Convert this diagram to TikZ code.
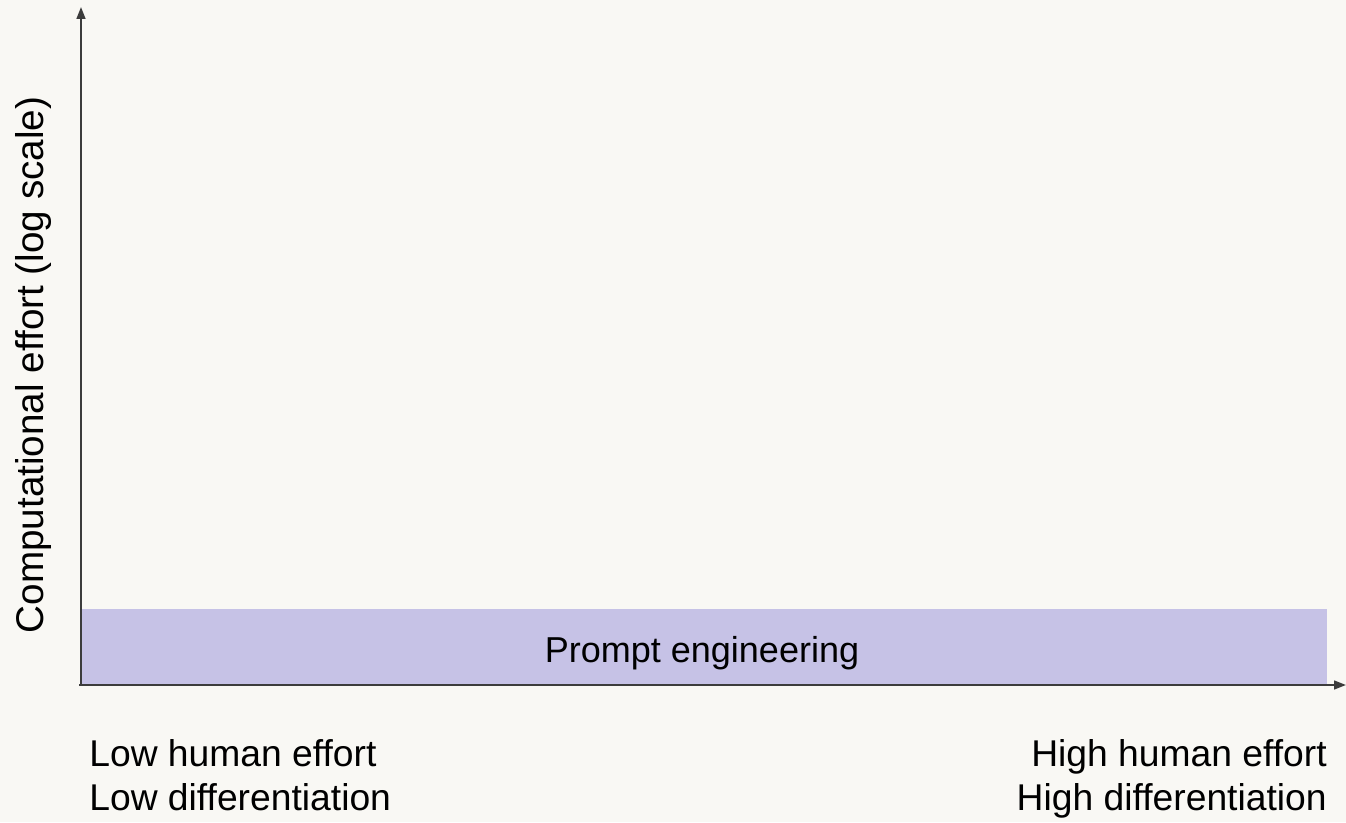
\documentclass[tikz,border=0pt]{standalone}
\usepackage{fontspec}
\setmainfont{Liberation Sans}
\usetikzlibrary{arrows.meta}
\definecolor{paper}{HTML}{F9F8F4}
\definecolor{axisgray}{HTML}{3C3C3C}
\definecolor{promptfill}{HTML}{C6C2E6}
\begin{document}
\begin{tikzpicture}[x=0.02cm,y=-0.02cm,
		axis/.style={axisgray,line width=1.1pt,-{Triangle[length=6.8pt,width=5pt]}},
		label/.style={inner sep=0,font=\fontsize{20.5}{25}\selectfont},
		corner/.style={label,font=\fontsize{21.2}{25}\selectfont}]
			%\draw[help lines,xstep=100,ystep=100] (0,0) grid (1346,822);
			\fill[paper] (0,0) rectangle (1346,822);
			\useasboundingbox (0,0) rectangle (1346,822);
			\fill[promptfill] (81,609) rectangle (1327,685);
			\coordinate (origin) at (81,685);
			\coordinate (ytip) at (81,7);
			\coordinate (xstart) at (79,685);
			\coordinate (xtip) at (1346,685);
			\draw[axis] (origin) -- (ytip);
			\draw[axis] (xstart) -- (xtip);
			\node[label,anchor=base] (prompt) at (702,662) {Prompt engineering};
			\node[label,font=\fontsize{22}{26}\selectfont,rotate=90,anchor=base] (yaxis) at (43,365) {Computational effort (log scale)};
			\node[corner,anchor=base west] (lowhuman) at (89,766) {Low human effort};
			\node[corner,anchor=base west] (lowdiff) at (89,810) {Low differentiation};
			\node[corner,anchor=base east] (highhuman) at (1327,766) {High human effort};
			\node[corner,anchor=base east] (highdiff) at (1327,810) {High differentiation};
		\end{tikzpicture}
\end{document}
